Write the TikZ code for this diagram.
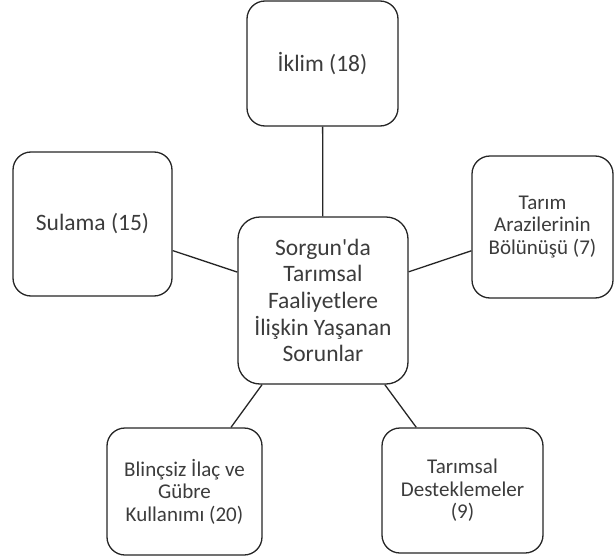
\documentclass[tikz,border=0pt]{standalone}
\usepackage{fontspec}
\setmainfont{Carlito}[Ligatures=TeXOff]
\definecolor{txt}{HTML}{3C3C3C}
\tikzset{
  box/.style={draw=black!85, line width=1.3pt, rounded corners=18pt, fill=white,
    inner sep=0pt, align=center, text=txt, anchor=center},
  bigtext/.style={font=\fontsize{23.5pt}{26.7pt}\selectfont},
  smalltext/.style={font=\fontsize{21pt}{22.6pt}\selectfont},
  link/.style={draw=black!85, line width=1.3pt}
}
\begin{document}
\begin{tikzpicture}[x=1pt,y=-1pt]
\useasboundingbox (0,0) rectangle (614,557);
\node[box,bigtext,minimum width=170pt,minimum height=167pt,rounded corners=22pt] (c) at (323,300.5)
  {Sorgun'da\\Tarımsal\\Faaliyetlere\\İlişkin Yaşanan\\Sorunlar};
\node[box,bigtext,minimum width=151pt,minimum height=125pt] (t) at (322.5,63.5) {İklim (18)};
\node[box,bigtext,minimum width=159pt,minimum height=144pt] (l) at (92.5,224) {Sulama (15)};
\node[box,smalltext,minimum width=141pt,minimum height=142pt] (r) at (542.5,227) {Tarım\\Arazilerinin\\Bölünüşü (7)};
\node[box,smalltext,minimum width=155pt,minimum height=127pt] (bl) at (184.5,491.5) {Blinçsiz İlaç ve\\Gübre\\Kullanımı (20)};
\node[box,smalltext,minimum width=161pt,minimum height=125pt] (br) at (462.5,490.5) {Tarımsal\\Desteklemeler\\(9)};
\draw[link] (c) -- (t);
\draw[link] (c) -- (l);
\draw[link] (c) -- (r);
\draw[link] (c) -- (bl);
\draw[link] (c) -- (br);
\end{tikzpicture}
\end{document}
